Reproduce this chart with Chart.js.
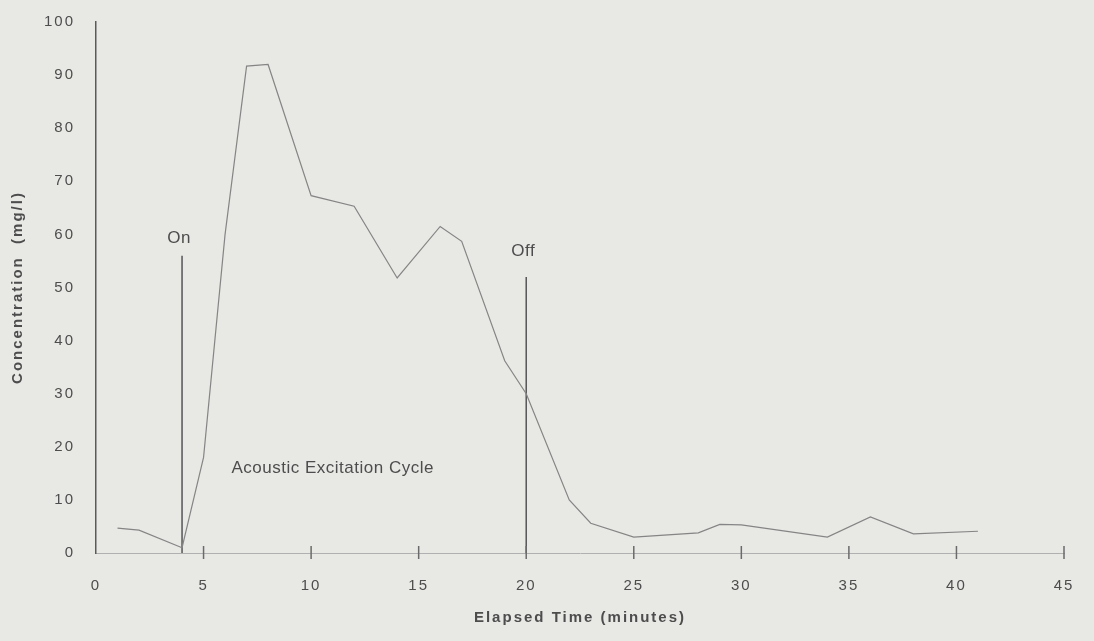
<!DOCTYPE html>
<html>
<head>
<meta charset="utf-8">
<script src="https://cdn.jsdelivr.net/npm/chart.js@4.4.1/dist/chart.umd.min.js"></script>
<style>
  html, body { margin: 0; padding: 0; background: #e8e8e5; }
  #wrap { width: 1094px; height: 641px; }
</style>
</head>
<body>
<div id="wrap"><canvas id="myChart" width="1094" height="641"></canvas></div>
<script>
const minutes = [1, 2, 4, 5, 6, 7, 8, 10, 12, 14, 16, 17, 19, 20, 22, 23, 25, 28, 29, 30, 34, 36, 38, 41];
const concentration = [4.7, 4.3, 1.0, 18, 60, 91.7, 92, 67.3, 65.3, 51.8, 61.5, 58.7, 36.2, 30, 10, 5.6, 3.0, 3.8, 5.4, 5.3, 3.0, 6.8, 3.6, 4.1];

// on / off markers of the excitation cycle
const markerNames = ['On', 'Off'];
const markerTimes = [4, 20];
const markerHeights = [56, 52];

const xTickValues = [0, 5, 10, 15, 20, 25, 30, 35, 40, 45];
const yTickValues = [0, 10, 20, 30, 40, 50, 60, 70, 80, 90, 100];

const inkColor = '#4d4d4d';
const fontName = '"Liberation Sans", Arial, sans-serif';

let datasets = [{
    label: 'Concentration',
    data: minutes.map((m, i) => ({ x: m, y: concentration[i] })),
    borderColor: '#858585',
    borderWidth: 1.2,
    pointRadius: 0,
    tension: 0,
}];
markerTimes.forEach((t, i) => {
    datasets.push({
        label: markerNames[i],
        data: [{ x: t, y: 0 }, { x: t, y: markerHeights[i] }],
        borderColor: '#555555',
        borderWidth: 1.5,
        pointRadius: 0,
    });
});

const paperDecor = {
    id: 'paperDecor',
    beforeDraw(chart) {
        chart.ctx.letterSpacing = '2px';
    },
    beforeDatasetsDraw(chart) {
        chart.ctx.letterSpacing = '0px';
    },
    afterDatasetsDraw(chart) {
        const { ctx, scales: { x, y } } = chart;
        const y0 = y.getPixelForValue(0);
        ctx.save();
        // tick marks cross the x axis
        ctx.strokeStyle = '#6a6a6a';
        ctx.lineWidth = 1.5;
        x.ticks.forEach(t => {
            if (t.value === 0) return;
            const px = x.getPixelForValue(t.value);
            ctx.beginPath();
            ctx.moveTo(px, y0 - 7);
            ctx.lineTo(px, y0 + 6);
            ctx.stroke();
        });
        // marker captions
        const gaps = [17, 26];
        ctx.fillStyle = inkColor;
        ctx.font = '17px ' + fontName;
        ctx.letterSpacing = '0.5px';
        ctx.textAlign = 'center';
        ctx.textBaseline = 'middle';
        markerNames.forEach((n, i) => {
            ctx.fillText(n, x.getPixelForValue(markerTimes[i]) - 3, y.getPixelForValue(markerHeights[i]) - gaps[i]);
        });
        ctx.textAlign = 'left';
        ctx.fillText('Acoustic Excitation Cycle', x.getPixelForValue(6.3), y.getPixelForValue(16));
        ctx.restore();
    }
};

const config = {
    type: 'line',
    data: { datasets: datasets },
    options: {
        responsive: false,
        animation: false,
        layout: { padding: { left: 0, top: 22, right: 30, bottom: 0 } },
        plugins: {
            legend: { display: false },
            tooltip: { enabled: false },
        },
        scales: {
            x: {
                type: 'linear',
                min: 0,
                max: 45,
                afterBuildTicks: s => { s.ticks = xTickValues.map(v => ({ value: v })); },
                afterFit: s => { s.height = 88; s.paddingLeft = 0; s.paddingRight = 0; },
                grid: { display: false, drawTicks: false },
                border: { display: true, color: '#b0b0b0', width: 1, dash: [7, 4] },
                ticks: { padding: 24, color: inkColor, font: { family: fontName, size: 15 } },
                title: {
                    display: true,
                    text: 'Elapsed Time (minutes)',
                    color: inkColor,
                    font: { family: fontName, size: 15, weight: 'bold' },
                    padding: { top: 0, bottom: 14 },
                },
            },
            y: {
                min: 0,
                max: 100,
                afterBuildTicks: s => { s.ticks = yTickValues.map(v => ({ value: v })); },
                afterFit: s => { s.width = 96; s.paddingTop = 0; s.paddingBottom = 0; },
                grid: { display: false, drawTicks: false },
                border: { display: true, color: '#5a5a5a', width: 1.5 },
                ticks: { padding: 21, color: inkColor, font: { family: fontName, size: 15 } },
                title: {
                    display: true,
                    text: 'Concentration  (mg/l)',
                    color: inkColor,
                    font: { family: fontName, size: 15, weight: 'bold' },
                    padding: { top: 9, bottom: 0 },
                },
            },
        },
    },
    plugins: [paperDecor],
};

let myChart = new Chart(document.getElementById('myChart'), config);
</script>
</body>
</html>
